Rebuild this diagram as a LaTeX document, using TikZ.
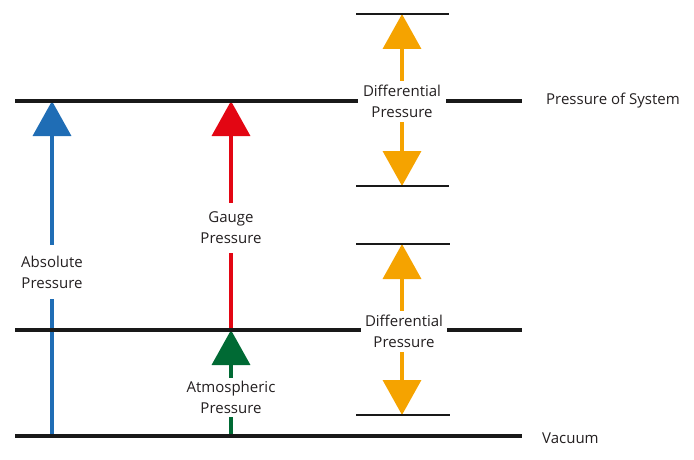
\documentclass[tikz,border=0pt]{standalone}
\usepackage{fontspec}
\setmainfont{Open Sans}
\usetikzlibrary{arrows.meta}
\definecolor{absblue}{HTML}{1F6DB5}
\definecolor{gaugered}{HTML}{E30613}
\definecolor{atmgreen}{HTML}{006A34}
\definecolor{difforange}{HTML}{F5A300}
\definecolor{txt}{HTML}{231F20}
\tikzset{
  mainline/.style={line width=4pt, black!90},
  shortline/.style={line width=2.6pt, black!90},
  shaft/.style={line width=3.6pt},
  headed/.style={shaft, -{Triangle[length=35pt,width=38pt]}},
  lbl/.style={font=\fontsize{15}{21}\selectfont, text=txt, align=center, inner sep=0pt},
}
\begin{document}
\begin{tikzpicture}[x=1pt,y=-1pt]
\useasboundingbox (0,0) rectangle (694,460);
% label nodes
\node[lbl, minimum height=54pt] (abs) at (52,272) {Absolute\\Pressure};
\node[lbl, minimum height=50pt] (gauge) at (231,228) {Gauge\\Pressure};
\node[lbl, minimum height=39pt] (atm) at (231,397.5) {Atmospheric\\Pressure};
\node[lbl, minimum height=41pt, minimum width=88pt] (d1) at (402,101.5) {Differential\\Pressure};
\node[lbl, minimum height=41pt, minimum width=86pt] (d2) at (404,331.5) {Differential\\Pressure};
\node[lbl, anchor=west] (sys) at (546,101) {Pressure of System};
\node[lbl, anchor=west] (vac) at (542,438) {Vacuum};
% coordinates
\coordinate (sysL) at (15,101);
\coordinate (sysR) at (522,101);
\coordinate (atmL) at (15,330);
\coordinate (atmR) at (522,330);
\coordinate (vacL) at (15,436);
\coordinate (vacR) at (522,436);
\coordinate (t1L) at (356,14);   \coordinate (t1R) at (449,14);
\coordinate (b1L) at (356,186);  \coordinate (b1R) at (449,186);
\coordinate (t2L) at (356,244);  \coordinate (t2R) at (450,244);
\coordinate (b2L) at (356,415);  \coordinate (b2R) at (450,415);
% arrows
\coordinate (absTop) at (52,101);  \coordinate (absBot) at (52,436);
\coordinate (gTop) at (231,101);   \coordinate (gBot) at (231,330);
\coordinate (aTop) at (231,330);   \coordinate (aBot) at (231,436);
\coordinate (d1Top) at (402,14);   \coordinate (d1Bot) at (402,186);
\coordinate (d2Top) at (402,244);  \coordinate (d2Bot) at (402,415);
\draw[headed, absblue] (abs.north) -- (absTop);
\draw[shaft, absblue] (absBot) -- (abs.south);
\draw[headed, gaugered] (gauge.north) -- (gTop);
\draw[shaft, gaugered] (gBot) -- (gauge.south);
\draw[headed, atmgreen] (atm.north) -- (aTop);
\draw[shaft, atmgreen] (aBot) -- (atm.south);
\draw[headed, difforange] (d1.north) -- (d1Top);
\draw[headed, difforange] (d1.south) -- (d1Bot);
\draw[headed, difforange] (d2.north -| d2Top) -- (d2Top);
\draw[headed, difforange] (d2.south -| d2Bot) -- (d2Bot);
% lines
\draw[mainline] (sysL) -- (sysL -| d1.west);
\draw[mainline] (sysR -| d1.east) -- (sysR);
\draw[mainline] (atmL) -- (atmL -| d2.west);
\draw[mainline] (atmR -| d2.east) -- (atmR);
\draw[mainline] (vacL) -- (vacR);
\draw[shortline] (t1L) -- (t1R);
\draw[shortline] (b1L) -- (b1R);
\draw[shortline] (t2L) -- (t2R);
\draw[shortline] (b2L) -- (b2R);
\end{tikzpicture}
\end{document}
